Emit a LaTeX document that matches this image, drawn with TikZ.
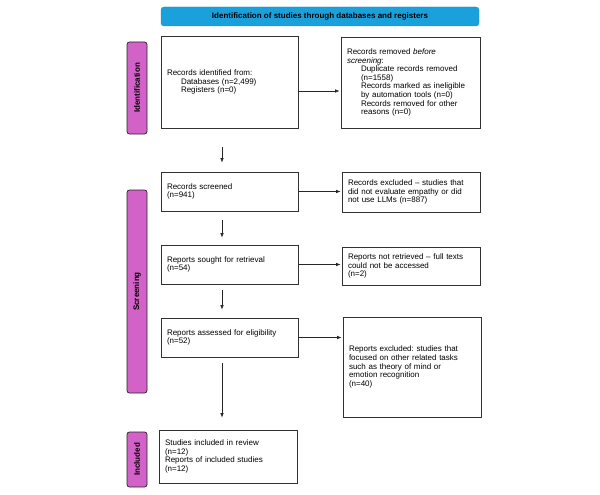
\documentclass[tikz,border=0pt]{standalone}
\usepackage{fontspec}
\setmainfont{Liberation Sans}
\usetikzlibrary{arrows.meta}
\frenchspacing
\definecolor{bannerblue}{RGB}{26,160,218}
\definecolor{taborchid}{RGB}{210,98,200}
\definecolor{edgegray}{RGB}{50,50,50}
\tikzset{
  box/.style={draw=edgegray, line width=0.7pt, fill=white, align=left, inner xsep=6pt,
    font=\fontsize{8}{8.6}\selectfont},
  tab/.style={draw=black!85, line width=0.7pt, fill=taborchid, rounded corners=2.5pt,
    minimum width=20pt, inner sep=0pt, font=\fontsize{8}{9}\selectfont\bfseries},
  banner/.style={fill=bannerblue, draw=bannerblue!90!black, line width=0.4pt, rounded corners=3pt,
    minimum width=318pt, minimum height=19pt, inner sep=0pt, font=\fontsize{8}{9}\selectfont\bfseries},
  arr/.style={draw=black!85, line width=0.6pt, -{Latex[length=4.5pt,width=3.5pt]}}
}
\newcommand{\ind}{\hspace*{14pt}}
\begin{document}
\begin{tikzpicture}[x=1pt,y=-1pt]
\useasboundingbox[fill=white] (0,0) rectangle (600,495);
\node[banner] (ban) at (320,16.5) {Identification of studies through databases and registers};
\node[tab, minimum height=92pt] (t1) at (137,88) {\rotatebox{90}{Identification}};
\node[tab, minimum height=203pt] (t2) at (137,291.5) {\rotatebox{90}{Screening}};
\node[tab, minimum height=55pt] (t3) at (137,459.5) {\rotatebox{90}{Included}};

\node[box, text width=125pt, minimum height=92pt] (b1) at (229.5,82)
  {Records identified from:\\\ind Databases (n=2,499)\\\ind Registers (n=0)};
\node[box, text width=127pt, minimum height=91pt] (b2) at (410.5,82.5)
  {Records removed \emph{before}\\\emph{screening}:\\\ind Duplicate records removed\\\ind (n=1558)\\\ind Records marked as ineligible\\\ind by automation tools (n=0)\\\ind Records removed for other\\\ind reasons (n=0)};
\node[box, text width=125pt, minimum height=39pt] (b3) at (229.5,191.5)
  {Records screened\\(n=941)};
\node[box, text width=126pt, minimum height=40pt] (b5) at (411,192)
  {Records excluded -- studies that\\did not evaluate empathy or did\\not use LLMs (n=887)};
\node[box, text width=125pt, minimum height=39pt] (b4) at (229.5,264.5)
  {Reports sought for retrieval\\(n=54)};
\node[box, text width=126pt, minimum height=38pt] (b6) at (411,266)
  {Reports not retrieved -- full texts\\could not be accessed\\(n=2)};
\node[box, text width=125pt, minimum height=39pt] (b7) at (229.5,337.5)
  {Reports assessed for eligibility\\(n=52)};
\node[box, text width=126pt, minimum height=100pt] (b9) at (412,367)
  {Reports excluded: studies that\\focused on other related tasks\\such as theory of mind or\\emotion recognition\\(n=40)};
\node[box, text width=126pt, minimum height=53pt] (b8) at (228,456.5)
  {Studies included in review\\(n=12)\\Reports of included studies\\(n=12)};

\draw[arr, shorten <=19pt, shorten >=9pt] ([xshift=-7.5pt]b1.south) -- ([xshift=-7.5pt]b3.north);
\draw[arr, shorten <=9pt, shorten >=7pt] ([xshift=-7.5pt]b3.south) -- ([xshift=-7.5pt]b4.north);
\draw[arr, shorten <=6pt, shorten >=8pt] ([xshift=-7.5pt]b4.south) -- ([xshift=-7.5pt]b7.north);
\draw[arr, shorten <=6pt, shorten >=12pt] ([xshift=-7.5pt]b7.south) -- ([xshift=-7.5pt]b7.south |- b8.north);

\draw[arr, shorten >=1pt] ([yshift=-9pt]b1.east) -- ([yshift=-9pt]b1.east -| b2.west);
\draw[arr, shorten >=1pt] (b3.east) -- (b3.east -| b5.west);
\draw[arr, shorten >=1pt] (b4.east) -- (b4.east -| b6.west);
\draw[arr, shorten >=1pt] (b7.east) -- (b7.east -| b9.west);
\end{tikzpicture}
\end{document}
